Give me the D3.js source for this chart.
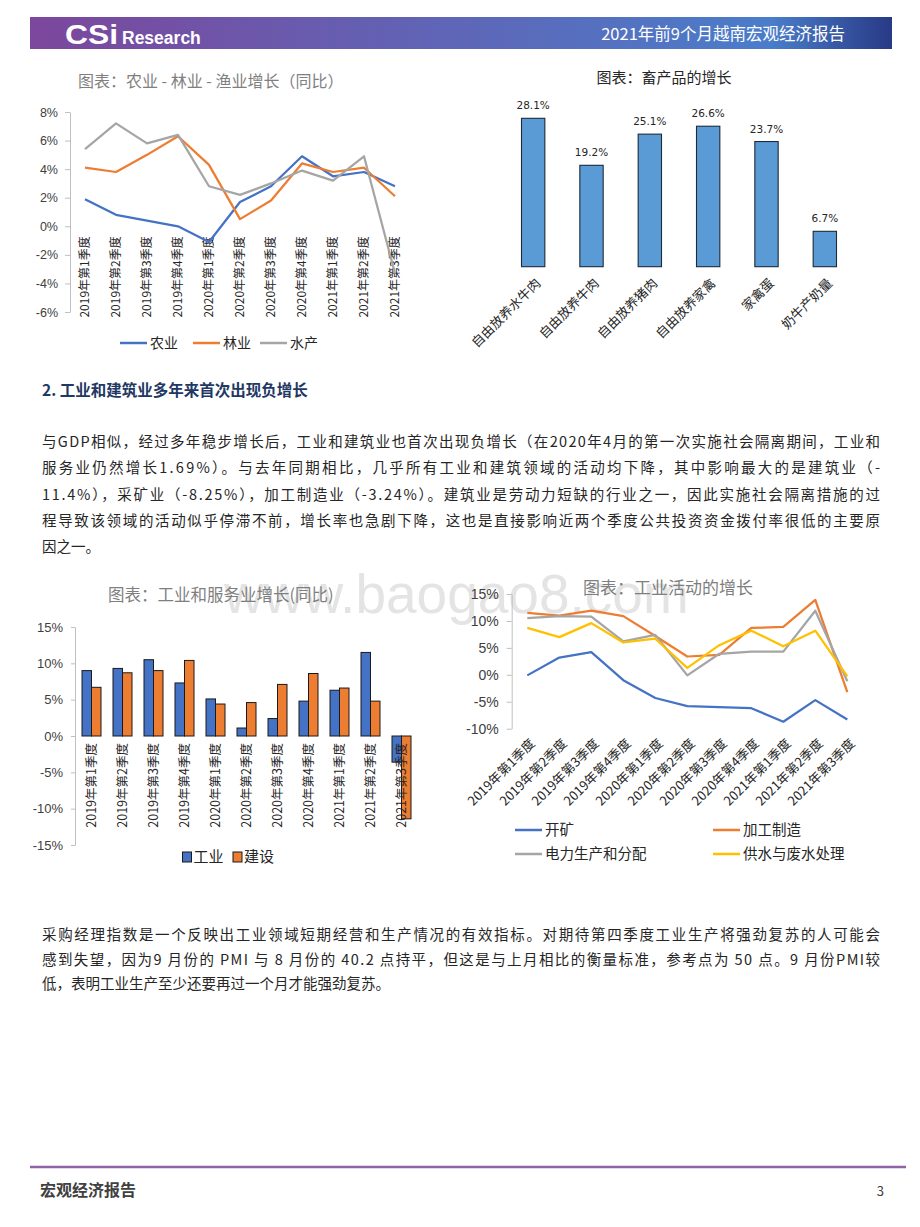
<!DOCTYPE html>
<html>
<head>
<meta charset="utf-8">
<script src="https://cdn.jsdelivr.net/npm/d3@7"></script>
<style>
  html, body { margin: 0; padding: 0; background: #fff; }
  svg { display: block; }
  text { font-family: "Noto Sans CJK SC", "Noto Sans", sans-serif; }
</style>
</head>
<body>
<svg id="page" width="920" height="1227"></svg>
<script>
(function () {
    'use strict';

    // ---- data ----
    var quarters = ['2019年第1季度', '2019年第2季度', '2019年第3季度', '2019年第4季度',
                    '2020年第1季度', '2020年第2季度', '2020年第3季度', '2020年第4季度',
                    '2021年第1季度', '2021年第2季度', '2021年第3季度'];

    // chart 1: agriculture / forestry / fishery (%)
    var agriNames = ['农业', '林业', '水产'];
    var agriVals = [1.9, 0.8, 0.4, 0.0, -1.1, 1.7, 2.8, 4.9, 3.5, 3.8, 2.8];
    var forestVals = [4.1, 3.8, 5.0, 6.3, 4.3, 0.5, 1.8, 4.4, 3.8, 4.1, 2.1];
    var fisheryVals = [5.4, 7.2, 5.8, 6.4, 2.8, 2.2, 3.0, 3.9, 3.2, 4.9, -3.3];
    var agriTicks = [8, 6, 4, 2, 0, -2, -4, -6];

    // chart 2: livestock products (%)
    var livestockCats = ['自由放养水牛肉', '自由放养牛肉', '自由放养猪肉', '自由放养家禽', '家禽蛋', '奶牛产奶量'];
    var livestockVals = [28.1, 19.2, 25.1, 26.6, 23.7, 6.7];

    // chart 3: industry and construction (%)
    var indNames = ['工业', '建设'];
    var industryVals = [9.0, 9.3, 10.5, 7.3, 5.1, 1.1, 2.4, 4.8, 6.3, 11.5, -3.6];
    var constructionVals = [6.7, 8.7, 9.0, 10.4, 4.4, 4.6, 7.1, 8.6, 6.6, 4.8, -11.4];
    var indTicks = [15, 10, 5, 0, -5, -10, -15];

    // chart 4: industrial activity (%)
    var actNames = ['开矿', '加工制造', '电力生产和分配', '供水与废水处理'];
    var miningVals = [-0.1, 3.2, 4.2, -1.0, -4.3, -5.8, -6.0, -6.2, -8.7, -4.7, -8.3];
    var manufVals = [11.5, 11.0, 11.9, 10.9, 7.2, 3.4, 3.7, 8.7, 8.9, 13.9, -3.2];
    var powerVals = [10.5, 10.9, 10.8, 6.2, 7.4, -0.1, 3.9, 4.3, 4.3, 11.9, -1.2];
    var waterVals = [8.7, 7.0, 9.6, 6.0, 6.7, 1.3, 5.5, 8.2, 5.3, 8.2, -0.3];
    var actTicks = [15, 10, 5, 0, -5, -10];

    // page text
    var heading = '2. 工业和建筑业多年来首次出现负增长';
    var para1 = [
        '与GDP相似，经过多年稳步增长后，工业和建筑业也首次出现负增长（在2020年4月的第一次实施社会隔离期间，工业和',
        '服务业仍然增长1.69%）。与去年同期相比，几乎所有工业和建筑领域的活动均下降，其中影响最大的是建筑业（-',
        '11.4%），采矿业（-8.25%），加工制造业（-3.24%）。建筑业是劳动力短缺的行业之一，因此实施社会隔离措施的过',
        '程导致该领域的活动似乎停滞不前，增长率也急剧下降，这也是直接影响近两个季度公共投资资金拨付率很低的主要原',
        '因之一。'
    ];
    var para2 = [
        '采购经理指数是一个反映出工业领域短期经营和生产情况的有效指标。对期待第四季度工业生产将强劲复苏的人可能会',
        '感到失望，因为9 月份的 PMI 与 8 月份的 40.2 点持平，但这是与上月相比的衡量标准，参考点为 50 点。9 月份PMI较',
        '低，表明工业生产至少还要再过一个月才能强劲复苏。'
    ];

    var BLUE = '#4472c4', ORANGE = '#ed7d31', GRAY = '#a5a5a5', YELLOW = '#ffc000';
    var NUM = '"Liberation Sans", Arial, sans-serif';

    var svg = d3.select('#page');

    // watermark (behind everything)
    svg.append('text')
        .attr('x', 224).attr('y', 613)
        .style('font-family', NUM)
        .style('font-size', '55px')
        .attr('fill', '#e4e4e4')
        .text('www.baogao8.com');

    // ---- header ----
    var grad = svg.append('defs').append('linearGradient')
        .attr('id', 'hdr').attr('x1', '0%').attr('x2', '100%');
    [[0, '#7c479c'], [0.45, '#6163b5'], [0.86, '#4a7dca'], [1, '#283a86']].forEach(function (s) {
        grad.append('stop').attr('offset', s[0]).attr('stop-color', s[1]);
    });
    svg.append('rect').attr('x', 30).attr('y', 17).attr('width', 862).attr('height', 32)
        .attr('fill', 'url(#hdr)');
    svg.append('text').attr('x', 65).attr('y', 44)
        .style('font-family', NUM).style('font-size', '27px').style('font-weight', 'bold')
        .attr('textLength', 53).attr('lengthAdjust', 'spacingAndGlyphs')
        .attr('fill', '#fff').text('CSi');
    svg.append('text').attr('x', 122).attr('y', 44)
        .style('font-family', NUM).style('font-size', '17.5px').style('font-weight', 'bold')
        .attr('fill', '#fff').text('Research');
    svg.append('text').attr('x', 845).attr('y', 40)
        .attr('text-anchor', 'end')
        .style('font-size', '16.5px')
        .attr('fill', '#fff').text('2021年前9个月越南宏观经济报告');

    // ---- footer ----
    svg.append('line').attr('x1', 30).attr('x2', 906).attr('y1', 1167).attr('y2', 1167)
        .attr('stroke', '#9063a6').attr('stroke-width', 2.5);
    svg.append('text').attr('x', 40).attr('y', 1196)
        .style('font-size', '16px').style('font-weight', 'bold')
        .attr('fill', '#404040').text('宏观经济报告');
    svg.append('text').attr('x', 884).attr('y', 1196)
        .attr('text-anchor', 'end')
        .style('font-size', '13px').attr('fill', '#404040').text('3');

    // ---- body text ----
    svg.append('text').attr('x', 42).attr('y', 390).attr('dy', '0.36em')
        .style('font-size', '15.5px').style('font-weight', 'bold')
        .attr('fill', '#1f3864').text(heading);

    function paragraph(lines, y0, lh, size) {
        lines.forEach(function (t, i) {
            var el = svg.append('text').attr('x', 42).attr('y', y0 + i * lh).attr('dy', '0.36em')
                .style('font-size', size + 'px').attr('fill', '#262626').text(t);
            if (i < lines.length - 1) {
                el.attr('textLength', 838).attr('lengthAdjust', 'spacing');
            }
        });
    }
    paragraph(para1, 442, 26.2, 14.5);
    paragraph(para2, 935, 24.5, 14.5);

    // helpers
    function styleAxis(g, size) {
        g.select('.domain').attr('stroke', '#bfbfbf');
        g.selectAll('.tick line').attr('stroke', '#bfbfbf');
        g.selectAll('.tick text')
            .style('font-family', NUM).style('font-size', size + 'px').attr('fill', '#404040');
    }
    function pct(d) { return d + '%'; }

    function legendLine(x, y, color, label, size) {
        svg.append('line').attr('x1', x).attr('x2', x + 27).attr('y1', y).attr('y2', y)
            .attr('stroke', color).attr('stroke-width', 2.5);
        svg.append('text').attr('x', x + 30).attr('y', y).attr('dy', '0.36em')
            .style('font-size', size + 'px').attr('fill', '#262626').text(label);
    }

    // ---- chart 1: agriculture lines ----
    svg.append('text').attr('x', 78).attr('y', 81).attr('dy', '0.36em')
        .style('font-size', '16px').attr('fill', '#7f7f7f')
        .text('图表：农业 - 林业 - 渔业增长（同比）');

    var x1 = d3.scalePoint().domain(quarters).range([85, 395]);
    var y1 = d3.scaleLinear().domain([-6, 8]).range([312, 112]);

    var ax1 = svg.append('g').attr('transform', 'translate(70,0)')
        .call(d3.axisLeft(y1).tickValues(agriTicks).tickFormat(pct)
            .tickSize(5).tickSizeOuter(0).tickPadding(7));
    styleAxis(ax1, 12.5);

    var agriSeries = [agriVals, forestVals, fisheryVals];
    var agriColors = [BLUE, ORANGE, GRAY];
    var line1 = d3.line().x(function (d, i) { return x1(quarters[i]); }).y(function (d) { return y1(d); });

    svg.append('g').selectAll('text').data(quarters).enter().append('text')
        .attr('transform', function (d) { return 'translate(' + x1(d) + ',' + (y1(0) + 10) + ') rotate(-90)'; })
        .attr('text-anchor', 'end').attr('dy', '0.36em')
        .style('font-size', '12px').attr('fill', '#262626')
        .text(function (d) { return d; });

    svg.append('g').selectAll('path').data(agriSeries).enter().append('path')
        .attr('d', line1)
        .attr('fill', 'none')
        .attr('stroke', function (d, i) { return agriColors[i]; })
        .attr('stroke-width', 2.25)
        .attr('stroke-linejoin', 'round');

    [120, 193, 260].forEach(function (lx, i) {
        legendLine(lx, 343, agriColors[i], agriNames[i], 14);
    });

    // ---- chart 2: livestock bars ----
    svg.append('text').attr('x', 664).attr('y', 78).attr('dy', '0.36em')
        .attr('text-anchor', 'middle')
        .style('font-size', '15px').attr('fill', '#262626')
        .text('图表：畜产品的增长');

    var x2 = d3.scaleBand().domain(livestockCats).range([504, 854]).paddingInner(0.6).paddingOuter(0.3);
    var y2 = d3.scaleLinear().domain([0, 28.1]).range([266.7, 118.3]);

    svg.append('g').selectAll('rect').data(livestockVals).enter().append('rect')
        .attr('x', function (d, i) { return x2(livestockCats[i]); })
        .attr('y', function (d) { return y2(d); })
        .attr('width', x2.bandwidth())
        .attr('height', function (d) { return y2(0) - y2(d); })
        .attr('fill', '#5b9bd5')
        .attr('stroke', '#1c2a3a').attr('stroke-width', 1.1);

    svg.append('g').selectAll('text').data(livestockVals).enter().append('text')
        .attr('x', function (d, i) { return x2(livestockCats[i]) + x2.bandwidth() / 2; })
        .attr('y', function (d) { return y2(d) - 9; })
        .attr('text-anchor', 'middle')
        .style('font-family', '"DejaVu Sans", Verdana, sans-serif').style('font-size', '10.5px')
        .attr('fill', '#262626')
        .text(function (d) { return d.toFixed(1) + '%'; });

    svg.append('g').selectAll('text').data(livestockCats).enter().append('text')
        .attr('transform', function (d) {
            return 'translate(' + (x2(d) + x2.bandwidth() / 2 + 5) + ',' + (y2(0) + 14) + ') rotate(-45)';
        })
        .attr('text-anchor', 'end').attr('dy', '0.36em')
        .style('font-size', '13px').attr('fill', '#262626')
        .text(function (d) { return d; });

    // ---- chart 3: industry & construction bars ----
    svg.append('text').attr('x', 108).attr('y', 595).attr('dy', '0.36em')
        .style('font-size', '16.5px').attr('fill', '#7f7f7f')
        .text('图表：工业和服务业增长(同比)');

    var x3 = d3.scaleBand().domain(quarters).range([76, 417]);
    var y3 = d3.scaleLinear().domain([-15, 15]).range([845, 627]);
    var barW = 9.5;

    var ax3 = svg.append('g').attr('transform', 'translate(75,0)')
        .call(d3.axisLeft(y3).tickValues(indTicks).tickFormat(pct)
            .tickSize(4).tickSizeOuter(0).tickPadding(8));
    styleAxis(ax3, 13);

    var indSeries = [industryVals, constructionVals];
    var indColors = [BLUE, ORANGE];
    indSeries.forEach(function (vals, s) {
        svg.append('g').selectAll('rect').data(vals).enter().append('rect')
            .attr('x', function (d, i) { return x3(quarters[i]) + x3.bandwidth() / 2 - barW + s * barW; })
            .attr('y', function (d) { return y3(Math.max(0, d)); })
            .attr('width', barW)
            .attr('height', function (d) { return Math.abs(y3(d) - y3(0)); })
            .attr('fill', indColors[s])
            .attr('stroke', '#1a1a1a').attr('stroke-width', 1);
    });

    svg.append('g').selectAll('text').data(quarters).enter().append('text')
        .attr('transform', function (d) {
            return 'translate(' + (x3(d) + x3.bandwidth() / 2) + ',' + (y3(0) + 7) + ') rotate(-90)';
        })
        .attr('text-anchor', 'end').attr('dy', '0.36em')
        .style('font-size', '12.5px').attr('fill', '#262626')
        .text(function (d) { return d; });

    [182.5, 233].forEach(function (lx, i) {
        svg.append('rect').attr('x', lx).attr('y', 852).attr('width', 9).attr('height', 10)
            .attr('fill', indColors[i]).attr('stroke', '#1a1a1a').attr('stroke-width', 1);
        svg.append('text').attr('x', lx + 11).attr('y', 857).attr('dy', '0.36em')
            .style('font-size', '15px').attr('fill', '#262626').text(indNames[i]);
    });

    // ---- chart 4: industrial activity lines ----
    svg.append('text').attr('x', 583).attr('y', 588).attr('dy', '0.36em')
        .style('font-size', '17px').attr('fill', '#7f7f7f')
        .text('图表：工业活动的增长');

    var x4 = d3.scalePoint().domain(quarters).range([527.3, 847.3]);
    var y4 = d3.scaleLinear().domain([-10, 15]).range([728.7, 594]);

    var ax4 = svg.append('g').attr('transform', 'translate(511.7,0)')
        .call(d3.axisLeft(y4).tickValues(actTicks).tickFormat(pct)
            .tickSize(5).tickSizeOuter(0).tickPadding(8));
    styleAxis(ax4, 14);

    var actSeries = [miningVals, manufVals, powerVals, waterVals];
    var actColors = [BLUE, ORANGE, GRAY, YELLOW];
    var line4 = d3.line().x(function (d, i) { return x4(quarters[i]); }).y(function (d) { return y4(d); });

    svg.append('g').selectAll('path').data(actSeries).enter().append('path')
        .attr('d', line4)
        .attr('fill', 'none')
        .attr('stroke', function (d, i) { return actColors[i]; })
        .attr('stroke-width', 2.25)
        .attr('stroke-linejoin', 'round');

    svg.append('g').selectAll('text').data(quarters).enter().append('text')
        .attr('transform', function (d) { return 'translate(' + (x4(d) + 5) + ',741) rotate(-45)'; })
        .attr('text-anchor', 'end').attr('dy', '0.36em')
        .style('font-size', '13px').attr('fill', '#262626')
        .text(function (d) { return d; });

    [[515, 830], [713, 830], [515, 854], [713, 854]].forEach(function (p, i) {
        legendLine(p[0], p[1], actColors[i], actNames[i], 14.5);
    });

}());
</script>
</body>
</html>
